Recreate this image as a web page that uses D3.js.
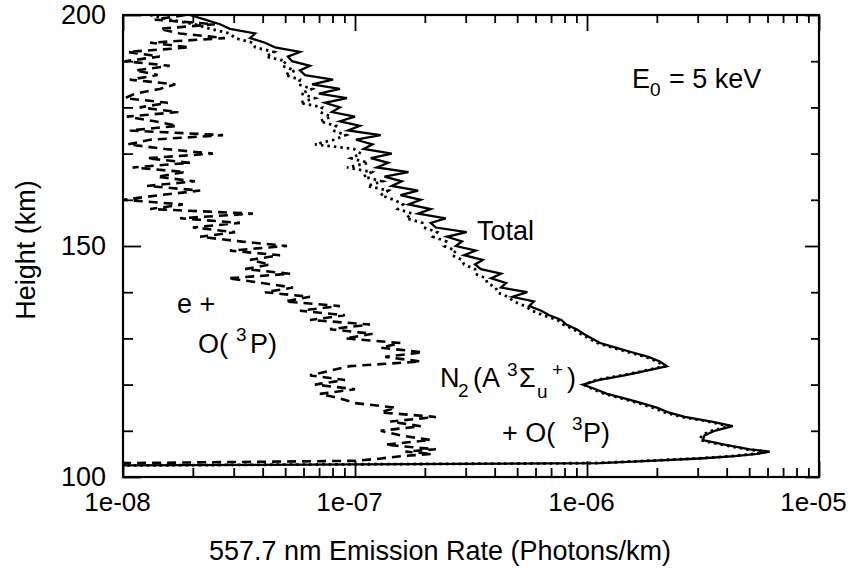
<!DOCTYPE html>
<html>
<head>
<meta charset="utf-8">
<script src="https://cdnjs.cloudflare.com/ajax/libs/d3/7.8.5/d3.min.js"></script>
<style>
  body { margin: 0; background: #fff; }
  svg { display: block; }
</style>
</head>
<body>
<div id="chart"></div>
<script>
// heights (km) shared by the three profiles
const heights = [
  200, 199, 198, 197, 196, 195, 194, 193, 192, 191,
  190, 189, 188, 187, 186, 185, 184, 183, 182, 181,
  180, 179, 178, 177, 176, 175, 174, 173, 172, 171,
  170, 169, 168, 167, 166, 165, 164, 163, 162, 161,
  160, 159, 158, 157, 156, 155, 154, 153, 152, 151,
  150, 149, 148, 147, 146, 145, 144, 143, 142, 141,
  140, 139, 138, 137, 136, 135, 134, 133, 132, 131,
  130, 129, 128, 127, 126, 125, 124, 123, 122, 121,
  120, 119, 118, 117, 116, 115, 114, 113, 112, 111,
  110, 109, 108, 107, 106, 105.5, 105, 104.5, 104, 103.5,
  103, 102.5
];

// Total 557.7 nm emission rate (solid)
const totalRate = [
  1.94e-8, 2.26e-8, 2.62e-8, 2.89e-8, 3.71e-8, 3.53e-8, 4.09e-8, 4.52e-8, 5.79e-8, 5.14e-8,
  5.35e-8, 6.40e-8, 5.79e-8, 6.09e-8, 8.04e-8, 6.53e-8, 8.61e-8, 6.99e-8, 9.23e-8, 7.42e-8,
  8.61e-8, 7.95e-8, 1.00e-7, 8.61e-8, 1.05e-7, 9.32e-8, 1.29e-7, 1.01e-7, 1.19e-7, 1.09e-7,
  1.44e-7, 1.17e-7, 1.39e-7, 1.24e-7, 1.70e-7, 1.34e-7, 1.59e-7, 1.44e-7, 1.87e-7, 1.57e-7,
  1.92e-7, 1.70e-7, 2.12e-7, 1.87e-7, 2.46e-7, 2.12e-7, 2.23e-7, 3.03e-7, 2.49e-7, 2.89e-7,
  2.72e-7, 3.32e-7, 2.95e-7, 3.55e-7, 3.29e-7, 3.49e-7, 4.26e-7, 3.86e-7, 4.48e-7, 4.26e-7,
  5.53e-7, 4.76e-7, 5.90e-7, 5.63e-7, 6.35e-7, 6.88e-7, 7.75e-7, 8.15e-7, 9.01e-7, 9.66e-7,
  1.05e-6, 1.14e-6, 1.33e-6, 1.56e-6, 1.84e-6, 2.06e-6, 2.21e-6, 1.81e-6, 1.45e-6, 1.13e-6,
  9.6e-7, 1.09e-6, 1.22e-6, 1.45e-6, 1.72e-6, 2.00e-6, 2.24e-6, 2.64e-6, 3.44e-6, 4.25e-6,
  3.55e-6, 3.21e-6, 3.16e-6, 3.92e-6, 5.03e-6, 6.13e-6, 5.42e-6, 4.33e-6, 3.06e-6, 1.86e-6,
  1.13e-6, 1.0e-8
];

// N2(A 3Sigma u+) + O(3P) contribution (dotted)
const n2Rate = [
  1.31e-8, 1.59e-8, 2.04e-8, 2.37e-8, 2.89e-8, 3.04e-8, 3.63e-8, 3.71e-8, 4.48e-8, 4.13e-8,
  5.04e-8, 4.85e-8, 5.51e-8, 4.99e-8, 5.79e-8, 5.68e-8, 6.53e-8, 5.85e-8, 6.72e-8, 5.79e-8,
  7.21e-8, 7.06e-8, 7.88e-8, 7.06e-8, 8.28e-8, 8.04e-8, 9.14e-8, 8.12e-8, 6.72e-8, 9.90e-8,
  1.06e-7, 9.61e-8, 1.14e-7, 9.24e-8, 1.18e-7, 1.09e-7, 1.31e-7, 1.13e-7, 1.39e-7, 1.29e-7,
  1.47e-7, 1.61e-7, 1.53e-7, 1.76e-7, 1.66e-7, 1.95e-7, 1.98e-7, 2.26e-7, 2.17e-7, 2.47e-7,
  2.42e-7, 2.72e-7, 2.62e-7, 2.89e-7, 2.95e-7, 3.29e-7, 3.29e-7, 3.67e-7, 3.71e-7, 4.05e-7,
  4.09e-7, 4.56e-7, 4.84e-7, 5.41e-7, 5.79e-7, 6.46e-7, 7.45e-7, 7.90e-7, 8.74e-7, 9.38e-7,
  1.02e-6, 1.11e-6, 1.29e-6, 1.51e-6, 1.79e-6, 2.00e-6, 2.17e-6, 1.77e-6, 1.41e-6, 1.10e-6,
  9.7e-7, 1.06e-6, 1.19e-6, 1.41e-6, 1.67e-6, 1.92e-6, 2.16e-6, 2.56e-6, 3.34e-6, 4.12e-6,
  3.44e-6, 3.12e-6, 3.06e-6, 3.81e-6, 4.88e-6, 5.90e-6, 5.25e-6, 4.17e-6, 2.95e-6, 1.79e-6,
  1.08e-6, 1.0e-8
];

// e + O(3P) contribution (dashed)
const eRate = [
  1.85e-8, 1.37e-8, 2.49e-8, 1.44e-8, 1.76e-8, 2.75e-8, 1.31e-8, 1.94e-8, 1.05e-8, 1.44e-8,
  1.02e-8, 1.59e-8, 1.13e-8, 1.41e-8, 1.07e-8, 1.68e-8, 1.44e-8, 1.13e-8, 1.02e-8, 1.56e-8,
  1.18e-8, 1.73e-8, 1.04e-8, 1.37e-8, 1.71e-8, 1.07e-8, 2.70e-8, 1.31e-8, 1.05e-8, 1.52e-8,
  2.44e-8, 1.27e-8, 1.94e-8, 1.10e-8, 1.85e-8, 1.40e-8, 2.04e-8, 1.27e-8, 2.15e-8, 1.44e-8,
  1.00e-8, 1.81e-8, 1.31e-8, 3.63e-8, 1.76e-8, 3.19e-8, 2.00e-8, 3.04e-8, 2.15e-8, 3.19e-8,
  5.09e-8, 2.89e-8, 4.75e-8, 3.53e-8, 4.30e-8, 3.36e-8, 5.25e-8, 2.83e-8, 3.97e-8, 5.40e-8,
  4.09e-8, 6.40e-8, 4.99e-8, 8.61e-8, 5.79e-8, 9.05e-8, 6.40e-8, 1.16e-7, 7.80e-8, 1.19e-7,
  9.05e-8, 1.57e-7, 1.29e-7, 1.96e-7, 1.35e-7, 1.92e-7, 9.51e-8, 7.80e-8, 6.40e-8, 9.05e-8,
  6.72e-8, 1.00e-7, 7.06e-8, 8.61e-8, 1.00e-7, 1.50e-7, 1.29e-7, 2.23e-7, 1.42e-7, 1.92e-7,
  1.29e-7, 1.57e-7, 2.12e-7, 1.35e-7, 2.23e-7, 1.65e-7, 2.15e-7, 1.57e-7, 1.29e-7, 1.00e-7,
  1.0e-8, null
];

const xMajorTicks = [1e-8, 1e-7, 1e-6, 1e-5];
const xTickLabels = ["1e-08", "1e-07", "1e-06", "1e-05"];
const yMajorTicks = [100, 150, 200];
const yMinorTicks = [110, 120, 130, 140, 160, 170, 180, 190];

const width = 850, height = 571;
const margin = { top: 15, right: 31, bottom: 94, left: 123 };
const innerW = width - margin.left - margin.right;
const innerH = height - margin.top - margin.bottom;
const font = "'Liberation Sans', Arial, Helvetica, sans-serif";

const svg = d3.select("#chart").append("svg")
  .attr("width", width)
  .attr("height", height)
  .style("font-family", font);

const g = svg.append("g")
  .attr("transform", `translate(${margin.left},${margin.top})`);

const x = d3.scaleLog().domain([1e-8, 1e-5]).range([0, innerW]);
const y = d3.scaleLinear().domain([100, 200]).range([innerH, 0]);

// minor ticks 2..9 of every decade
const xMinorTicks = [];
xMajorTicks.slice(0, -1).forEach(d => {
  for (let k = 2; k <= 9; k++) xMinorTicks.push(d * k);
});

function styleAxis(sel) {
  sel.select(".domain").remove();
  sel.selectAll(".tick line").attr("stroke", "#000").attr("stroke-width", 1.8);
  sel.selectAll(".tick text")
    .attr("fill", "#000")
    .style("font-family", font)
    .style("font-size", "27px");
}

// bottom
g.append("g").attr("transform", `translate(0,${innerH})`)
  .call(d3.axisBottom(x).tickValues(xMinorTicks).tickSize(-9).tickFormat(""))
  .call(styleAxis);
g.append("g").attr("transform", `translate(0,${innerH})`)
  .call(d3.axisBottom(x).tickValues(xMajorTicks).tickSize(-16).tickPadding(16)
    .tickFormat((d, i) => xTickLabels[i]))
  .call(styleAxis)
  .call(a => a.selectAll(".tick text").attr("x", -6).style("font-size", "26px"));
// top
g.append("g")
  .call(d3.axisTop(x).tickValues(xMinorTicks).tickSize(-8).tickFormat(""))
  .call(styleAxis);
g.append("g")
  .call(d3.axisTop(x).tickValues(xMajorTicks).tickSize(-16).tickFormat(""))
  .call(styleAxis);
// left
g.append("g")
  .call(d3.axisLeft(y).tickValues(yMinorTicks).tickSize(-10).tickFormat(""))
  .call(styleAxis);
g.append("g")
  .call(d3.axisLeft(y).tickValues(yMajorTicks).tickSize(-18).tickPadding(17)
    .tickFormat(d3.format("d")))
  .call(styleAxis);
// right
g.append("g").attr("transform", `translate(${innerW},0)`)
  .call(d3.axisRight(y).tickValues(yMinorTicks).tickSize(-8).tickFormat(""))
  .call(styleAxis);
g.append("g").attr("transform", `translate(${innerW},0)`)
  .call(d3.axisRight(y).tickValues(yMajorTicks).tickSize(-14).tickFormat(""))
  .call(styleAxis);

// profiles
g.append("clipPath").attr("id", "plotclip")
  .append("rect").attr("width", innerW).attr("height", innerH);

const line = rates => d3.line()
  .defined((h, i) => rates[i] != null)
  .x((h, i) => x(rates[i]))
  .y(h => y(h))(heights);

const plot = g.append("g").attr("clip-path", "url(#plotclip)");

plot.append("path")
  .attr("d", line(eRate))
  .attr("fill", "none")
  .attr("stroke", "#000")
  .attr("stroke-width", 2.6)
  .attr("stroke-dasharray", "9,6");

plot.append("path")
  .attr("d", line(n2Rate))
  .attr("fill", "none")
  .attr("stroke", "#000")
  .attr("stroke-width", 2.8)
  .attr("stroke-dasharray", "2.5,4");

plot.append("path")
  .attr("d", line(totalRate))
  .attr("fill", "none")
  .attr("stroke", "#000")
  .attr("stroke-width", 2.3)
  .attr("stroke-linejoin", "miter");

// frame
g.append("rect")
  .attr("width", innerW)
  .attr("height", innerH)
  .attr("fill", "none")
  .attr("stroke", "#000")
  .attr("stroke-width", 2.2);

// axis titles
svg.append("text")
  .attr("x", 440)
  .attr("y", 560)
  .attr("text-anchor", "middle")
  .style("font-size", "27px")
  .text("557.7 nm Emission Rate (Photons/km)");

svg.append("text")
  .attr("transform", "translate(35,250) rotate(-90)")
  .attr("text-anchor", "middle")
  .style("font-size", "27px")
  .text("Height (km)");

// annotations: [text, x, y, size]
const notes = [
  ["E", 632, 88, 27], ["0", 650, 96, 19], ["= 5 keV", 669, 88, 27],
  ["Total", 477, 240, 27],
  ["e +", 177, 313, 27],
  ["O(", 198, 353, 27], ["3", 236, 341, 19], ["P)", 250, 353, 27],
  ["N", 440, 387, 27], ["2", 458, 397, 19], ["(A", 473, 387, 27],
  ["3", 507, 376, 19], ["\u03A3", 519, 387, 27], ["u", 537, 398, 19],
  ["+", 552, 376, 19], [")", 567, 387, 27],
  ["+ O(", 502, 442, 27], ["3", 572, 430, 19], ["P)", 583, 442, 27]
];

svg.append("g").selectAll("text")
  .data(notes)
  .join("text")
  .attr("x", d => d[1])
  .attr("y", d => d[2])
  .style("font-size", d => d[3] + "px")
  .text(d => d[0]);
</script>
</body>
</html>
